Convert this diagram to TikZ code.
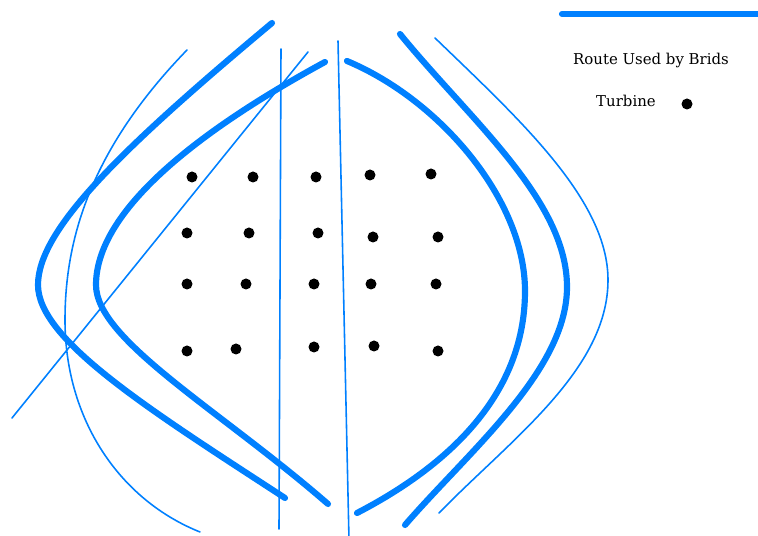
\documentclass[tikz,border=0pt]{standalone}
\usepackage{fontspec}
\setmainfont{DejaVu Serif}
\usetikzlibrary{positioning}
\definecolor{birdblue}{RGB}{0,128,255}

\begin{document}
\begin{tikzpicture}[
    x=0.02cm, y=-0.02cm,
    route/.style={draw=birdblue, line width=3.5pt, line cap=round, line join=round},
    thinroute/.style={draw=birdblue, line width=0.9pt, line cap=round},
    turbine/.style={circle, fill=black, inner sep=0pt, minimum size=0.22cm},
    legendtext/.style={font=\fontsize{8.5pt}{10pt}\selectfont, inner sep=0pt}
  ]
    \useasboundingbox (0,0) rectangle (758,536);

    % legend
    \coordinate (keyA) at (562,14);
    \coordinate (keyB) at (760,14);
    \draw[route] (keyA) -- (keyB);
    \node[legendtext] (keyroute) at (651,60) {Route Used by Brids};
    \node[legendtext] (keyturb) at (626,101) {Turbine};
    \node[turbine] (keydot) at (687,104) {};

    % thin straight lines
    \coordinate (diagA) at (308,52);
    \coordinate (diagB) at (12,418);
    \draw[thinroute] (diagA) -- (diagB);
    \coordinate (vertA) at (281,49);
    \coordinate (vertB) at (279,529);
    \draw[thinroute] (vertA) -- (vertB);
    \coordinate (vertC) at (338,41);
    \coordinate (vertD) at (349,540);
    \draw[thinroute] (vertC) -- (vertD);

    % left routes
    \draw[route] (272,23) .. controls (120,150) and (38,230) .. (38,285)
                 .. controls (38,340) and (150,410) .. (285,498);
    \draw[route] (325,62) .. controls (200,130) and (96,210) .. (96,285)
                 .. controls (96,340) and (220,410) .. (328,504);
    \draw[thinroute] (187,50) .. controls (90,150) and (65,240) .. (65,320)
                 .. controls (65,420) and (120,500) .. (200,532);

    % right routes
    \draw[route] (347,61) .. controls (440,100) and (525,200) .. (525,291)
                 .. controls (525,400) and (440,470) .. (357,513);
    \draw[route] (400,34) .. controls (470,120) and (567,200) .. (567,287)
                 .. controls (567,370) and (470,450) .. (405,525);
    \draw[thinroute] (435,38) .. controls (520,120) and (608,200) .. (608,280)
                 .. controls (608,370) and (510,440) .. (439,513);

    % turbines
    \foreach \x/\y [count=\i] in {192/177, 253/177, 316/177, 370/175, 431/174,
                                  187/233, 249/233, 318/233, 373/237, 438/237,
                                  187/284, 246/284, 314/284, 371/284, 436/284,
                                  187/351, 236/349, 314/347, 374/346, 438/351}
      \node[turbine] (t\i) at (\x,\y) {};
\end{tikzpicture}
\end{document}
